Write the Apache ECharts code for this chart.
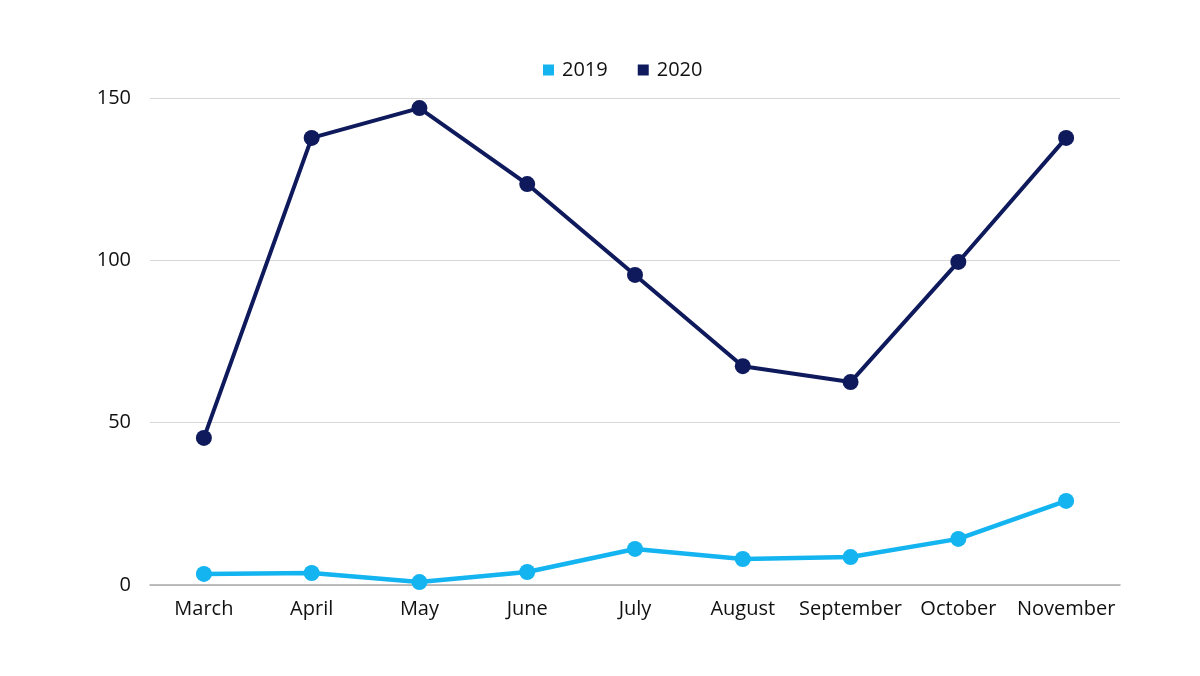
<!DOCTYPE html>
<html><head><meta charset="utf-8">
<script src="https://cdn.jsdelivr.net/npm/echarts@6/dist/echarts.min.js"></script>
<style>html,body{margin:0;padding:0;background:#fff}#c{width:1200px;height:676px}</style>
</head><body><div id="c"></div>
<script>
const categories = ['March','April','May','June','July','August','September','October','November'];
const values2019 = [3.4, 3.7, 0.9, 4, 11.1, 8, 8.6, 14.2, 25.9];
const values2020 = [45.3, 137.7, 146.9, 123.5, 95.5, 67.4, 62.5, 99.5, 137.7];
const yTicks = [0, 50, 100, 150];
const font = 'Open Sans';
const chart = echarts.init(document.getElementById('c'));
chart.setOption({
  animation: false,
  backgroundColor: '#fff',
  textStyle: {fontFamily: font},
  legend: {
    top: 55, left: 538, itemWidth: 11, itemHeight: 11, itemGap: 30, icon: 'rect',
    textStyle: {fontFamily: font, fontSize: 20, color: '#111', padding: [0,0,0,3]},
    data: ['2019','2020']
  },
  grid: {left: 150, right: 80, top: 98, bottom: 91},
  xAxis: {
    type: 'category', data: categories, boundaryGap: true,
    axisLine: {lineStyle: {color: '#aaaaaa', width: 1.5}},
    axisTick: {show: false},
    axisLabel: {fontFamily: font, fontSize: 20, color: '#111', margin: 14, interval: 0}
  },
  yAxis: {
    type: 'value', min: yTicks[0], max: yTicks[yTicks.length-1], interval: 50,
    axisLine: {show: false}, axisTick: {show: false},
    splitLine: {lineStyle: {color: '#d8d8d8', width: 1}},
    axisLabel: {fontFamily: font, fontSize: 20, color: '#111', margin: 19}
  },
  series: [
    {name: '2019', type: 'line', data: values2019, symbol: 'circle', symbolSize: 16,
     itemStyle: {color: '#14b4f0'}, lineStyle: {width: 4.5, color: '#14b4f0'}},
    {name: '2020', type: 'line', data: values2020, symbol: 'circle', symbolSize: 16,
     itemStyle: {color: '#0e1a5c'}, lineStyle: {width: 4, color: '#0e1a5c'}}
  ]
});
</script></body></html>
